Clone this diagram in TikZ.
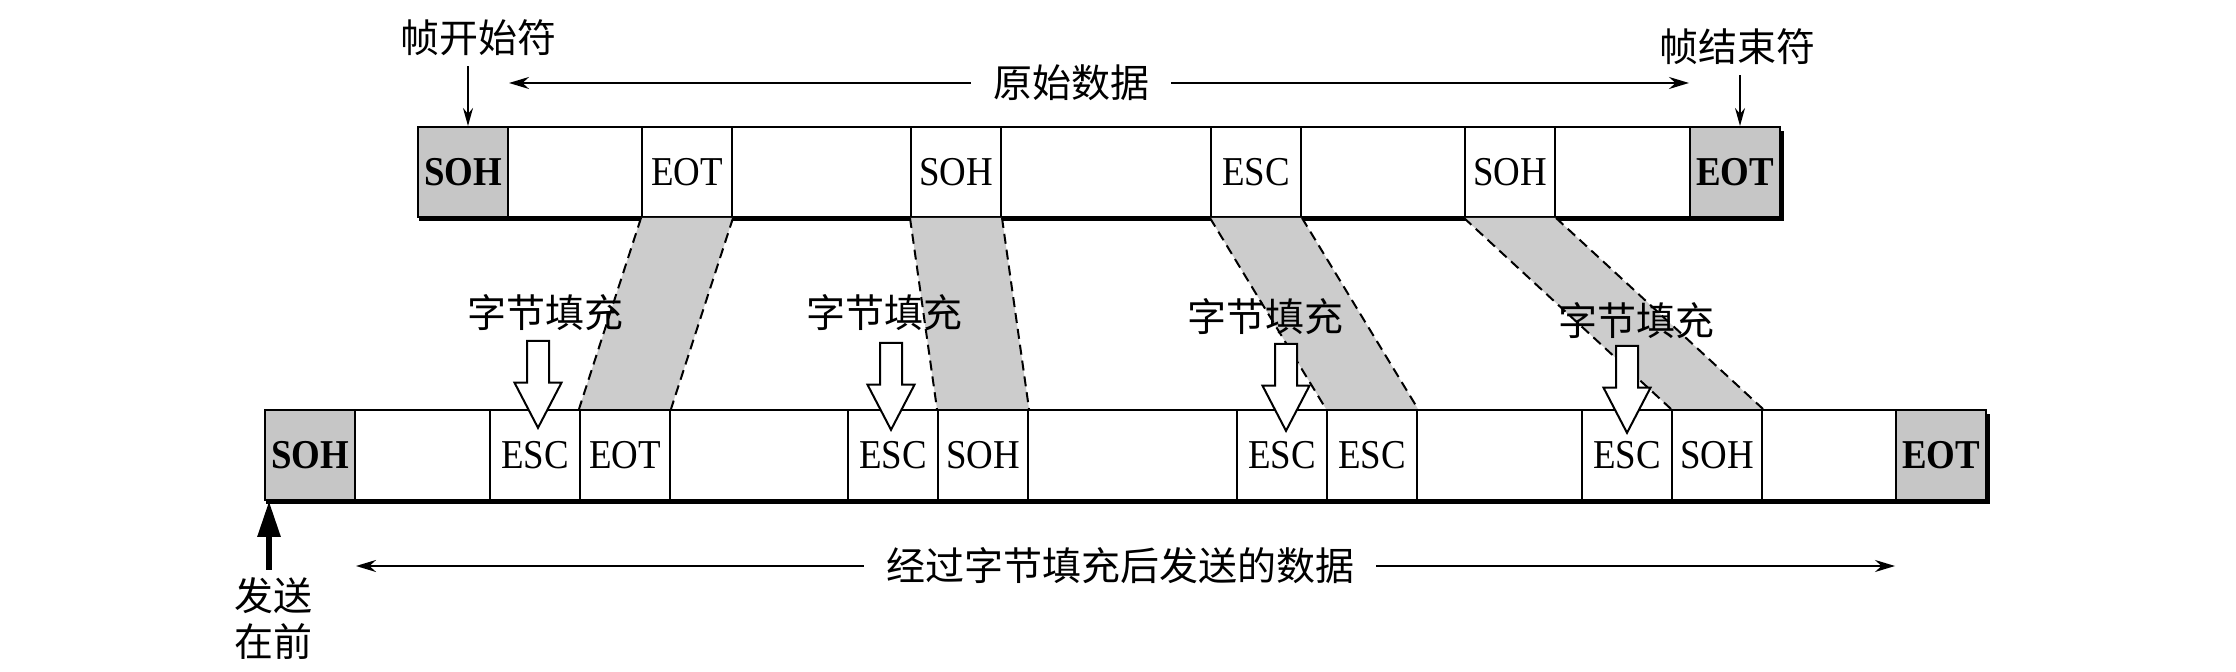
\documentclass[tikz,border=0pt]{standalone}
\usepackage{fontspec}
\setmainfont{Liberation Serif}
\newfontfamily\cellfont{Liberation Serif}[FakeStretch=0.9]
\newfontfamily\cjk{Noto Sans CJK SC}
\usetikzlibrary{positioning,calc,arrows.meta,shapes.arrows}
\tikzset{
	ch/.style={draw, line width=1pt, minimum width=45pt, minimum height=45pt, inner sep=0pt, fill=white, font=\cellfont\fontsize{20.5pt}{24pt}\selectfont},
	gcell/.style={ch, fill=gray!45, font=\cellfont\fontsize{20.5pt}{24pt}\selectfont\bfseries},
	lbl/.style={inner sep=0pt, font=\cjk\fontsize{19.5pt}{23pt}\selectfont},
	span/.style={-{Stealth[length=10pt, width=6pt]}, line width=1pt, shorten <=11pt},
	band/.style={fill=gray!40},
	bandedge/.style={line width=1pt, dash pattern=on 5pt off 3pt},
	pad/.style={single arrow, draw, fill=white, line width=1pt, shape border rotate=270, minimum height=43.5pt, single arrow head extend=6.25pt, single arrow tip angle=55, inner sep=5pt, anchor=tip}
}

\begin{document}
\begin{tikzpicture}[x=0.5pt, y=-0.5pt]
	\useasboundingbox (0,0) rectangle (2236,672);

	% original frame
	\draw[line width=1pt] (418,127) rectangle (1780,217);
	\draw[line width=2pt] (419,219) -- (1782,219) -- (1782,131);
	\node[gcell] (o1) at (463,172) {SOH};
	\node[ch] (o2) at (687,172) {EOT};
	\node[ch] (o3) at (956,172) {SOH};
	\node[ch] (o4) at (1256,172) {ESC};
	\node[ch] (o5) at (1510,172) {SOH};
	\node[gcell] (o6) at (1735,172) {EOT};

	% stuffed frame
	\draw[line width=1pt] (265,410) rectangle (1986,500);
	\draw[line width=2pt] (266,502) -- (1988,502) -- (1988,414);
	\node[gcell] (s1) at (310,455) {SOH};
	\node[ch] (s2) at (535,455) {ESC};
	\node[ch] (s3) at (625,455) {EOT};
	\node[ch] (s4) at (893,455) {ESC};
	\node[ch] (s5) at (983,455) {SOH};
	\node[ch] (s6) at (1282,455) {ESC};
	\node[ch] (s7) at (1372,455) {ESC};
	\node[ch] (s8) at (1627,455) {ESC};
	\node[ch] (s9) at (1717,455) {SOH};
	\node[gcell] (s10) at (1941,455) {EOT};

	% shaded bands
	\foreach \a/\b in {o2/s3, o3/s5, o4/s7, o5/s9} {
		\fill[band] (\a.south west) -- (\a.south east) -- (\b.north east) -- (\b.north west) -- cycle;
		\draw[bandedge] (\a.south west) -- (\b.north west);
		\draw[bandedge] (\a.south east) -- (\b.north east);
	}

	% byte stuffing
	\node[lbl] (f1) at (545,313) {字节填充};
	\node[lbl] (f2) at (884,313) {字节填充};
	\node[lbl] (f3) at (1265,317) {字节填充};
	\node[lbl] (f4) at (1636,321) {字节填充};
	\node[pad] (p1) at ($(s2.north)+(3,21)$) {};
	\node[pad] (p2) at ($(s4.north)+(-2,23)$) {};
	\node[pad] (p3) at ($(s6.north)+(4,24)$) {};
	\node[pad] (p4) at ($(s8.north)+(0,26)$) {};

	% labels
	\node[lbl] (start) at (478,38) {帧开始符};
	\node[lbl] (stop) at (1737,47) {帧结束符};
	\draw[-{Stealth[length=9pt, width=5pt]}, line width=0.8pt] ($(start.south -| o1)+(5,10)$) -- ($(o1.north)+(5,0)$);
	\draw[-{Stealth[length=9pt, width=5pt]}, line width=0.8pt] ($(stop.south -| o6)+(5,10)$) -- ($(o6.north)+(5,0)$);

	\node[lbl] (orig) at (1071,83) {原始数据};
	\draw[span] (orig) -- (orig -| o1.east);
	\draw[span] (orig) -- (orig -| o6.west);

	\node[lbl] (sent) at (1120,566) {经过字节填充后发送的数据};
	\draw[span] (sent) -- (sent -| s1.east);
	\draw[span] (sent) -- (sent -| s10.west);

	\node[lbl, align=center] (first) at (273,619) {发送\\在前};
	\draw[-{Triangle[length=18pt, width=11pt]}, line width=3pt] ($(first.north -| s1.south west)+(5,-8)$) -- ($(s1.south west)+(5,0)$);
\end{tikzpicture}
\end{document}
